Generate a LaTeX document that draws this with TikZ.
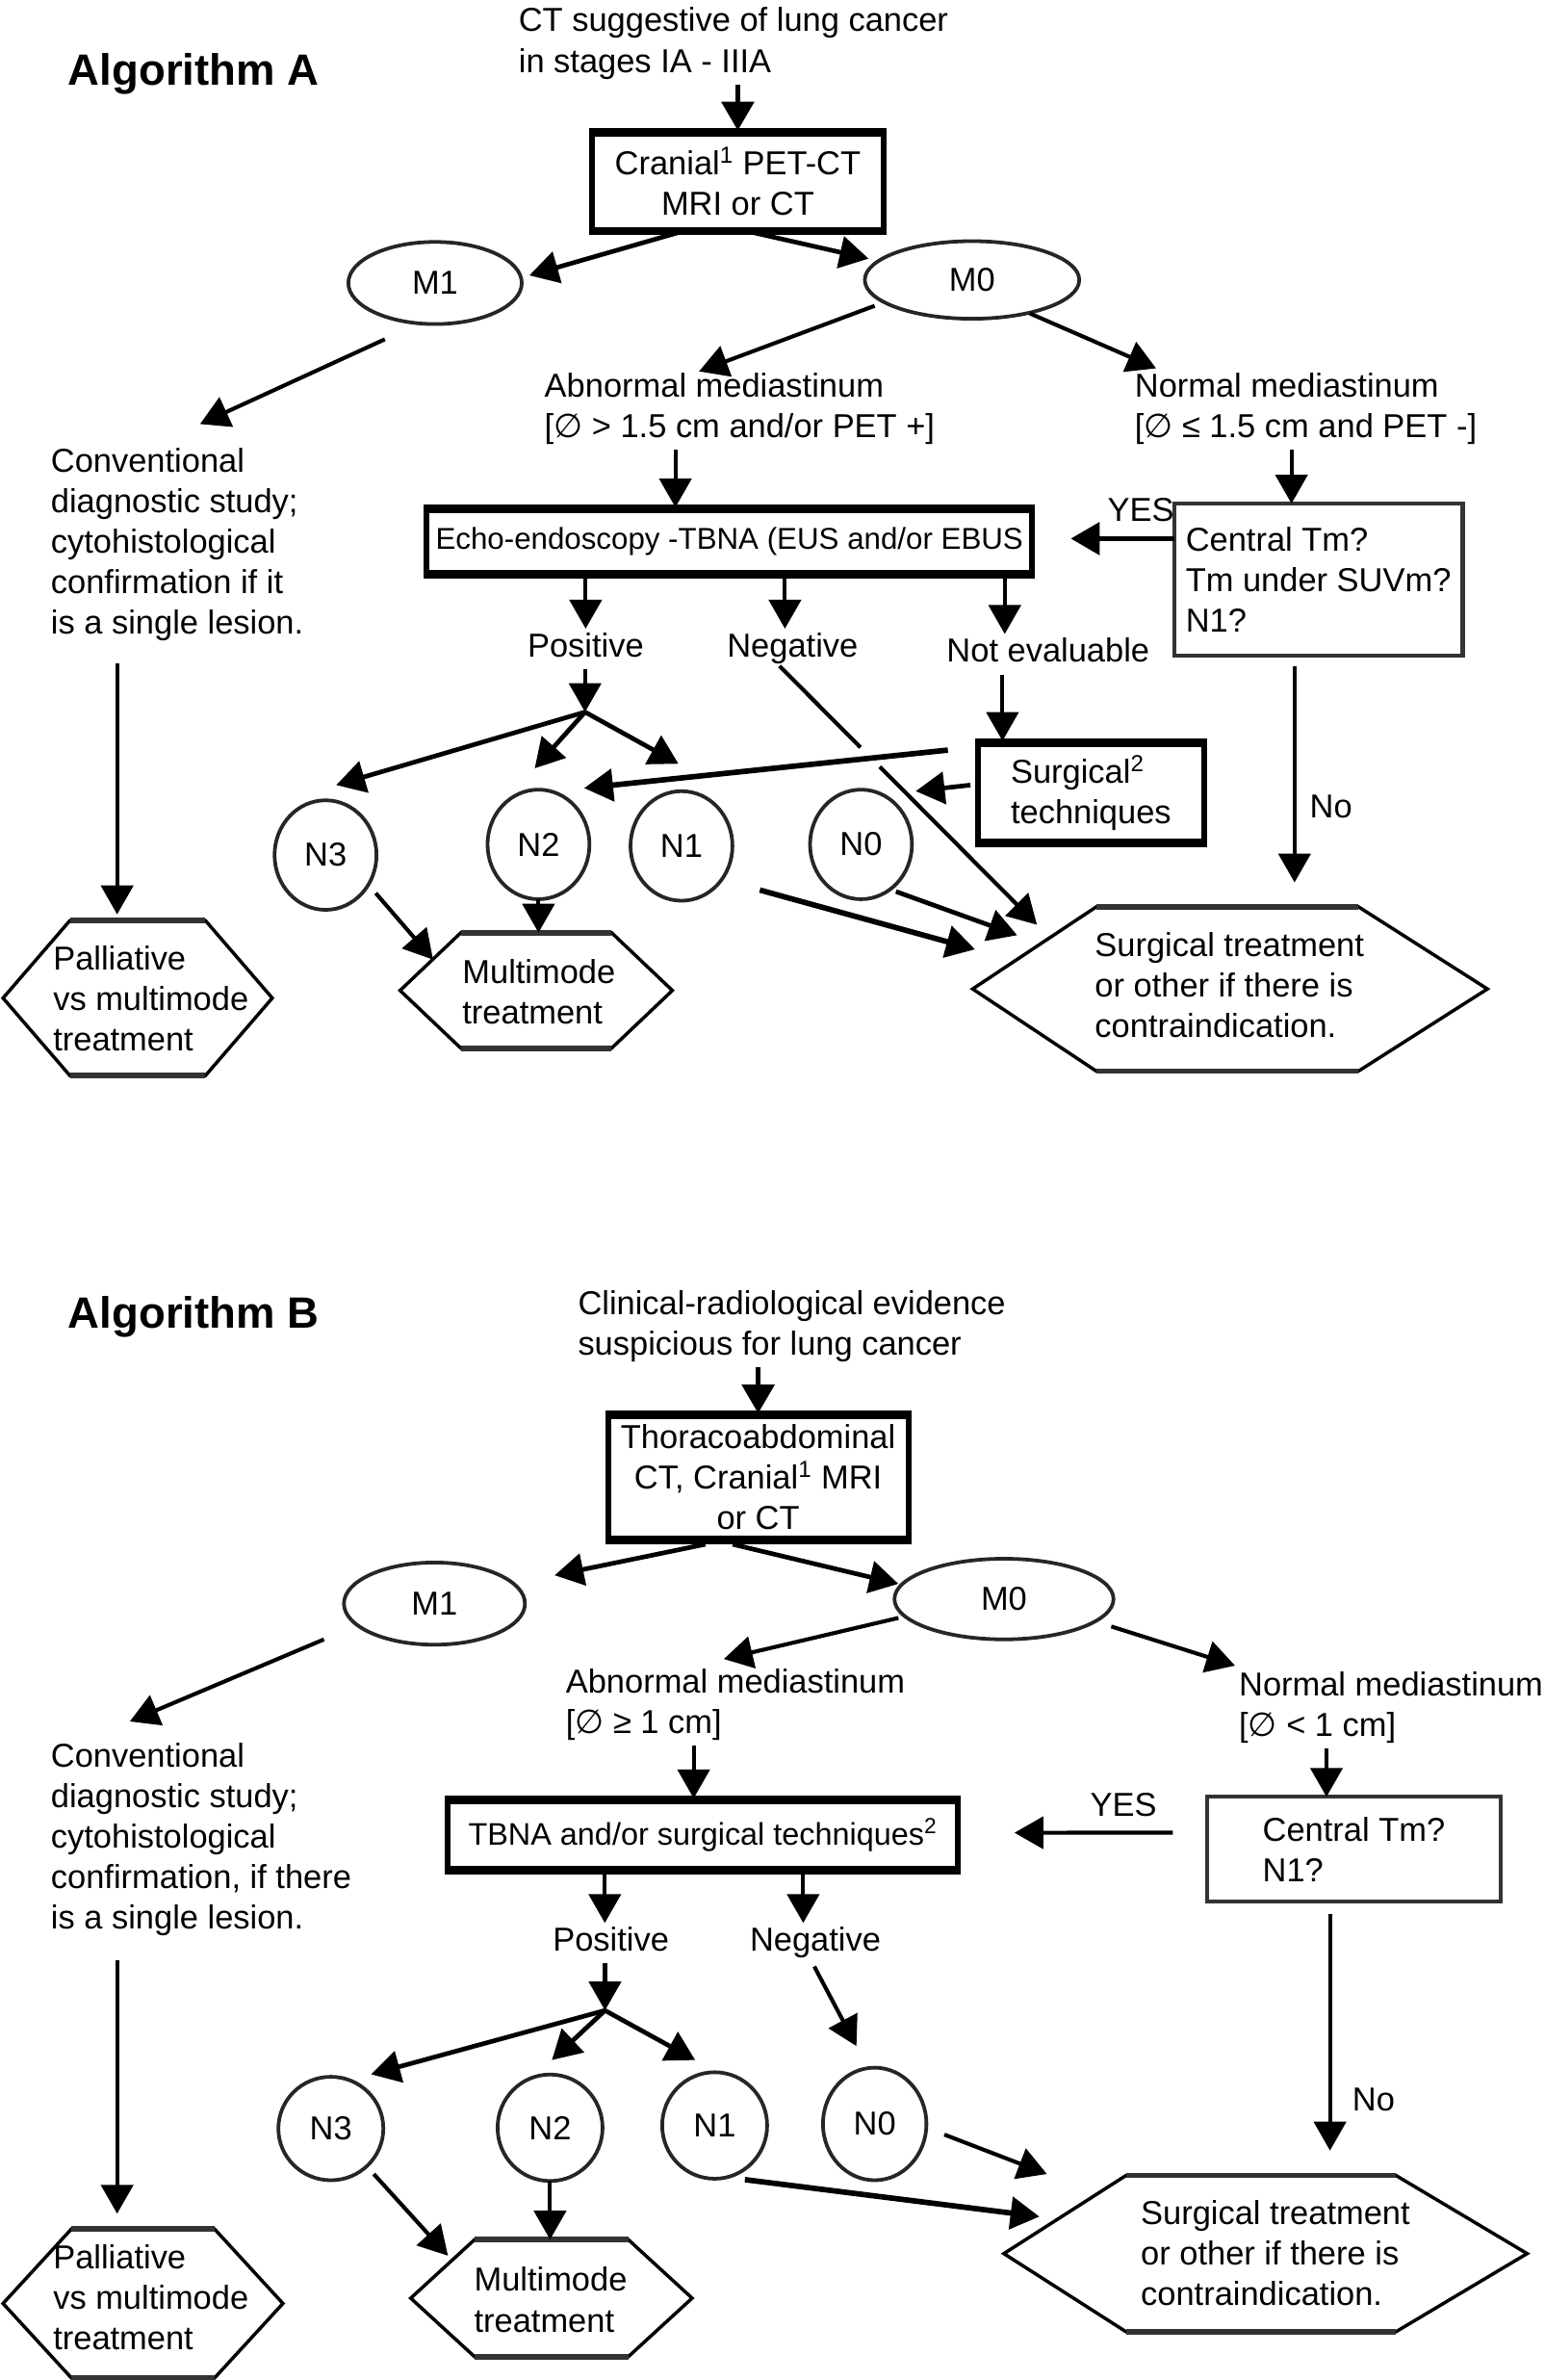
\documentclass[tikz,border=0pt]{standalone}
\usepackage{fontspec}
\setmainfont{Liberation Sans}
\newfontfamily\dvsans{DejaVu Sans}
\usetikzlibrary{arrows.meta,shapes.geometric,calc}
\newcommand{\hexframe}[3]{%
  \draw[hexline] ($(#1.north west)+(#2,0)$) -- ($(#1.north east)+(-#3,0)$) -- (#1.east) -- ($(#1.south east)+(-#3,0)$) -- ($(#1.south west)+(#2,0)$) -- (#1.west) -- cycle;
  \draw[hexedge] ($(#1.north west)+(#2,0)$) -- ($(#1.north east)+(-#3,0)$) ($(#1.south west)+(#2,0)$) -- ($(#1.south east)+(-#3,0)$);}
\begin{document}
\begin{tikzpicture}[x=1pt,y=-1pt,
 every node/.style={inner sep=0pt,outer sep=0pt},
 fnt/.style={font=\fontsize{21.8}{26.6}\selectfont},
 txt/.style={fnt,align=left,execute at begin node=\strut,execute at end node=\strut},
 lbl/.style={fnt,execute at begin node=\strut},
 ttl/.style={font=\fontsize{28.8}{35}\selectfont\bfseries,execute at begin node=\strut},
 myhead/.style={-{Triangle[length=19pt,width=21pt]}},
 arr/.style={line width=2.6pt,myhead},
 marr/.style={line width=3pt,myhead},
 tarr/.style={line width=3.6pt,myhead},
 ln/.style={line width=2.6pt},
 ell/.style={draw=black!85,ellipse,line width=2.4pt,fnt},
 tbox/.style={draw,line width=3.8pt,fnt,align=center,path picture={\draw[line width=7.5pt] (path picture bounding box.north west) -- (path picture bounding box.north east) (path picture bounding box.south west) -- (path picture bounding box.south east);}},
 gbox/.style={draw=black!80,line width=2.6pt,fnt,align=left},
 hexline/.style={line width=2.2pt,line join=miter},
 hexedge/.style={line width=3.6pt,black!80}
]
\fill[white] (0,0) rectangle (1015.2,1564.3);
\useasboundingbox (0,0) rectangle (1015.2,1564.3);

% ================= Algorithm A =================
\node[ttl,anchor=west] (ttlA) at (44.9,49.2) {Algorithm A};
\node[txt,anchor=west] (ctA) at (341,30.25) {CT suggestive of lung cancer\\in stages IA - IIIA};
\node[tbox,minimum width=191.8pt,minimum height=67pt] (cran) at (485,119.3) {Cranial\textsuperscript{1} PET-CT\\MRI or CT};
\node[ell,minimum width=114pt,minimum height=54pt] (m1a) at (286,186) {M1};
\node[ell,minimum width=141pt,minimum height=51pt] (m0a) at (639,184) {M0};
\node[txt,anchor=west] (convA) at (33.5,359.8) {Conventional\\diagnostic study;\\cytohistological\\confirmation if it\\is a single lesion.};
\node[txt,anchor=west] (abnA) at (358,270.3) {Abnormal mediastinum\\{[}{\dvsans ∅} > 1.5 cm and/or PET +{]}};
\node[txt,anchor=west] (normA) at (746,270.3) {Normal mediastinum\\{[}{\dvsans ∅} ≤ 1.5 cm and PET -{]}};
\node[tbox,font=\fontsize{19.8}{24}\selectfont,minimum width=398pt,minimum height=45pt] (echo) at (479.5,356) {Echo-endoscopy -TBNA (EUS and/or EBUS};
\node[gbox,minimum width=189.7pt,minimum height=100pt] (centA) at (866.7,381) {Central Tm?\\Tm under SUVm?\\N1?};
\node[lbl] (yesA) at (750,337.5) {YES};
\node[lbl] (posA) at (385,426.5) {Positive};
\node[lbl] (negA) at (521,426.5) {Negative};
\node[lbl] (notA) at (689,430) {Not evaluable};
\node[tbox,align=left,minimum width=149pt,minimum height=68pt] (surT) at (717.2,521) {Surgical\textsuperscript{2}\\techniques};
\node[ell,minimum width=67pt,minimum height=72pt] (n3a) at (214,562) {N3};
\node[ell,minimum width=67pt,minimum height=72pt] (n2a) at (354,555) {N2};
\node[ell,minimum width=67pt,minimum height=72pt] (n1a) at (448,556) {N1};
\node[ell,minimum width=67pt,minimum height=72pt] (n0a) at (566,555) {N0};
\node[lbl] (noA) at (875,532.5) {No};

\node[minimum width=338.4pt,minimum height=108pt] (surA) at (808.6,650) {};
\hexframe{surA}{81.3}{84.8}
\node[txt,anchor=west] (surAt) at (719.8,651.25) {Surgical treatment\\or other if there is\\contraindication.};
\node[minimum width=179pt,minimum height=76pt] (muA) at (352.5,651) {};
\hexframe{muA}{40}{40}
\node[txt,anchor=west] (muAt) at (304,655.5) {Multimode\\treatment};
\node[minimum width=177pt,minimum height=102pt] (paA) at (90.5,656) {};
\hexframe{paA}{44}{44}
\node[txt,anchor=west] (paAt) at (35,660.5) {Palliative\\vs multimode\\treatment};

\draw[tarr] (ctA.south -| cran.north) -- (cran.north);
\draw[marr] ($(cran.south west)+(57,0)$) -- ($(m1a.center)+(62,-5)$);
\draw[marr] ($(cran.south east)+(-86,0)$) -- ($(m0a.center)+(-68,-14)$);
\draw[arr] ($(m1a.center)+(-33,37)$) -- ($(convA.north west)+(98,-16)$);
\draw[arr] ($(m0a.center)+(-64,17)$) -- ($(abnA.north west)+(101.5,-1)$);
\draw[arr] ($(m0a.center)+(38,22)$) -- ($(normA.north west)+(14,-3)$);
\draw[arr] ($(abnA.south west)+(86,0)$) coordinate (a1) -- (a1 |- echo.north);
\draw[arr] ($(normA.south west)+(103,0)$) coordinate (a2) -- (a2 |- centA.north);
\draw[tarr] ($(centA.west)+(0,-27)$) -- ($(echo.east)+(25.4,-2)$);
\draw[arr] (echo.south -| posA.north) -- (posA.north);
\draw[arr] ($(echo.south -| negA.north)+(-5,0)$) -- ($(negA.north)+(-5,0)$);
\draw[arr] ($(echo.south -| notA.north)+(-28.5,0)$) -- ($(notA.north)+(-28.5,0)$);
\draw[arr] ($(notA.south)+(-30,0)$) coordinate (a4) -- (a4 |- surT.north);
\coordinate (jA) at (384.6,468);
\draw[arr] (posA.south -| jA) -- (jA);
\draw[marr] (jA) -- ($(n3a.center)+(7,-46)$);
\draw[marr] (jA) -- ($(n2a.center)+(-2.5,-50)$);
\draw[marr] (jA) -- ($(n1a.center)+(-2,-54)$);
\draw[tarr] ($(surT.north west)+(-19.6,6)$) -- ($(n2a.center)+(30,-37)$);
\draw[marr] ($(surT.west)+(-4.8,-5)$) -- ($(n0a.center)+(36,-35)$);
\coordinate (ngs) at ($(negA.south)+(-8.5,-2)$);
\coordinate (nge) at ($(surA.north west)+(42.3,11.8)$);
\draw[ln] (ngs) -- ($(ngs)!0.314!(nge)$);
\draw[arr] ($(ngs)!0.389!(nge)$) -- (nge);
\draw[tarr] ($(n1a.center)+(51.5,29)$) -- ($(surA.north west)+(1.6,28)$);
\draw[marr] ($(n0a.center)+(23,31)$) -- ($(surA.north west)+(29.3,18.7)$);
\draw[arr] ($(n3a.center)+(33,25)$) -- ($(muA.north west)+(21.7,17.7)$);
\draw[arr] (n2a.south) -- (n2a.south |- muA.north);
\draw[arr] ($(convA.south west)+(43.5,11)$) coordinate (a5) -- ($(a5 |- paA.north)+(0,-4)$);
\draw[arr] ($(centA.south)+(-15.7,7)$) coordinate (a6) -- ($(a6 |- surA.north)+(0,-16)$);

% ================= Algorithm B =================
\node[ttl,anchor=west] (ttlB) at (44.9,865.8) {Algorithm B};
\node[txt,anchor=west] (ctB) at (380,873.2) {Clinical-radiological evidence\\suspicious for lung cancer};
\node[tbox,minimum width=197.5pt,minimum height=84pt] (thB) at (498.4,971) {Thoracoabdominal\\CT, Cranial\textsuperscript{1} MRI\\or CT};
\node[ell,minimum width=119pt,minimum height=54pt] (m1b) at (285.6,1054) {M1};
\node[ell,minimum width=144pt,minimum height=53pt] (m0b) at (660,1051) {M0};
\node[txt,anchor=west] (convB) at (33.5,1210.55) {Conventional\\diagnostic study;\\cytohistological\\confirmation, if there\\is a single lesion.};
\node[txt,anchor=west] (abnB) at (372,1122.2) {Abnormal mediastinum\\{[}{\dvsans ∅} ≥ 1 cm{]}};
\node[txt,anchor=west] (normB) at (814.5,1124.15) {Normal mediastinum\\{[}{\dvsans ∅} < 1 cm{]}};
\node[tbox,font=\fontsize{20.5}{25}\selectfont,minimum width=335pt,minimum height=48pt] (tbB) at (462,1206) {TBNA and/or surgical techniques\textsuperscript{2}};
\node[gbox,minimum width=193.3pt,minimum height=69pt] (centB) at (890,1215.5) {Central Tm?\\N1?};
\node[lbl] (yesB) at (738.6,1188.4) {YES};
\node[lbl] (posB) at (401.6,1277.2) {Positive};
\node[lbl] (negB) at (536,1277.2) {Negative};
\node[ell,minimum width=69pt,minimum height=68pt] (n3b) at (217.5,1399) {N3};
\node[ell,minimum width=69pt,minimum height=70pt] (n2b) at (361.6,1398.5) {N2};
\node[ell,minimum width=69pt,minimum height=70pt] (n1b) at (469.8,1397) {N1};
\node[ell,minimum width=68pt,minimum height=74pt] (n0b) at (575,1396) {N0};
\node[lbl] (noB) at (903,1382.3) {No};

\node[minimum width=344pt,minimum height=102.8pt] (surB) at (831.9,1481.2) {};
\hexframe{surB}{80.4}{86.3}
\node[txt,anchor=west] (surBt) at (750,1484.65) {Surgical treatment\\or other if there is\\contraindication.};
\node[minimum width=185pt,minimum height=77pt] (muB) at (362.5,1510.5) {};
\hexframe{muB}{42}{42}
\node[txt,anchor=west] (muBt) at (311.7,1515.45) {Multimode\\treatment};
\node[minimum width=184pt,minimum height=98pt] (paB) at (94,1514) {};
\hexframe{paB}{45}{45}
\node[txt,anchor=west] (paBt) at (35,1513.85) {Palliative\\vs multimode\\treatment};

\draw[tarr] (ctB.south -| thB.north) -- (thB.north);
\draw[marr] ($(thB.south west)+(64,2)$) -- ($(m1b.center)+(79,-18.6)$);
\draw[marr] ($(thB.south west)+(82,2)$) -- ($(m0b.center)+(-69.4,-10)$);
\draw[arr] ($(m1b.center)+(-72.6,23.5)$) -- ($(convB.north west)+(51.8,-14)$);
\draw[arr] ($(m0b.center)+(-69.4,12.4)$) -- ($(abnB.north west)+(103.8,-6.6)$);
\draw[arr] ($(m0b.center)+(70.5,18)$) -- ($(normB.north west)+(-2.6,-4.2)$);
\draw[arr] ($(abnB.south west)+(84,0)$) coordinate (b1) -- (b1 |- tbB.north);
\draw[arr] ($(normB.south west)+(57.5,0)$) coordinate (b2) -- (b2 |- centB.north);
\draw[arr] ($(centB.west)+(-22.3,-11)$) -- ($(tbB.east)+(37.4,-1.4)$);
\draw[arr] ($(tbB.south -| posB.north)+(-4,0)$) -- ($(posB.north)+(-4,0)$);
\draw[arr] ($(tbB.south -| negB.north)+(-8,0)$) -- ($(negB.north)+(-8,0)$);
\coordinate (jB) at (397.7,1321.4);
\draw[arr] (posB.south -| jB) -- (jB);
\draw[marr] (jB) -- ($(n3b.center)+(26.5,-35.6)$);
\draw[marr] (jB) -- ($(n2b.center)+(1.2,-44.5)$);
\draw[marr] (jB) -- ($(n1b.center)+(-12.8,-43)$);
\draw[arr] ($(negB.south)+(-0.7,2)$) -- ($(n0b.center)+(-12,-51.2)$);
\draw[arr] ($(n3b.center)+(28.2,29.9)$) -- ($(muB.north west)+(24.5,10.6)$);
\draw[arr] (n2b.south) -- (n2b.south |- muB.north);
\draw[tarr] ($(n1b.center)+(19.9,35.6)$) -- ($(surB.north west)+(23.4,27.1)$);
\draw[arr] ($(n0b.center)+(45.8,7)$) -- ($(surB.north west)+(28.3,-0.9)$);
\draw[arr] ($(convB.south west)+(43.5,13)$) coordinate (b3) -- ($(b3 |- paB.north)+(0,-10)$);
\draw[arr] ($(centB.south)+(-15.7,8)$) coordinate (b4) -- ($(b4 |- surB.north)+(0,-16.3)$);
\end{tikzpicture}
\end{document}
